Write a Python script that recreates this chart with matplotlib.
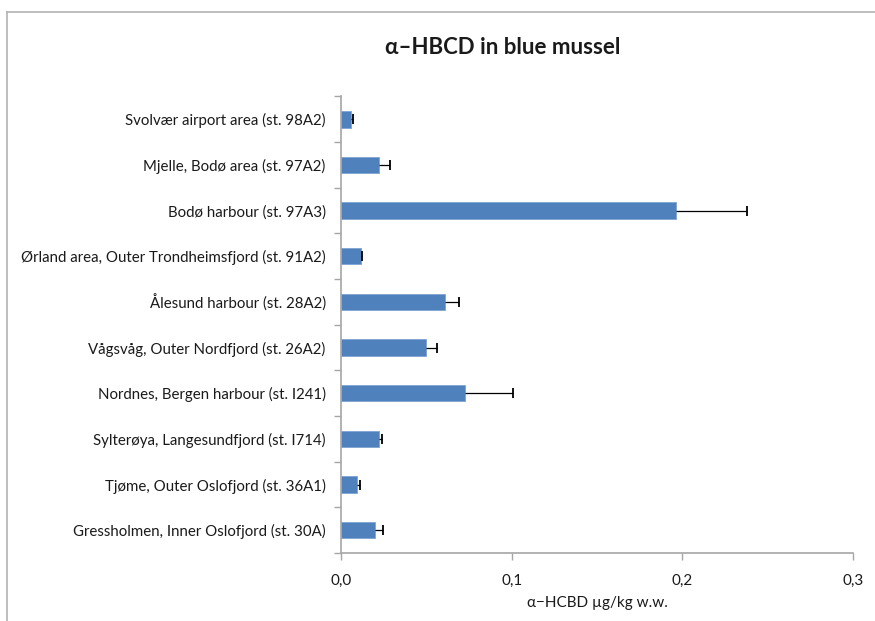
import matplotlib
matplotlib.use("Agg")
import matplotlib.pyplot as plt
import numpy as np
from matplotlib.ticker import FixedLocator, FuncFormatter
from matplotlib.lines import Line2D

plt.rcParams['font.family'] = ['Lato', 'DejaVu Sans']

stations = [
    "Svolvær airport area (st. 98A2)",
    "Mjelle, Bodø area (st. 97A2)",
    "Bodø harbour (st. 97A3)",
    "Ørland area, Outer Trondheimsfjord (st. 91A2)",
    "Ålesund harbour (st. 28A2)",
    "Vågsvåg, Outer Nordfjord (st. 26A2)",
    "Nordnes, Bergen harbour (st. I241)",
    "Sylterøya, Langesundfjord (st. I714)",
    "Tjøme, Outer Oslofjord (st. 36A1)",
    "Gressholmen, Inner Oslofjord (st. 30A)",
]
mean_conc = [0.0057, 0.0225, 0.1961, 0.0117, 0.0609, 0.0500, 0.0726, 0.0225, 0.0092, 0.0199]
std_dev = [0.0016, 0.0062, 0.0419, 0.0006, 0.0081, 0.0062, 0.0280, 0.0013, 0.0022, 0.0049]
x_ticks = [0.0, 0.1, 0.2, 0.3]

W, H = 875, 621
fig = plt.figure(figsize=(W / 100, H / 100), dpi=100)
fig.patch.set_facecolor("white")

# outer chart frame (top and left edges visible)
fig.add_artist(Line2D([7 / W, 7 / W], [0, 1 - 12 / H], transform=fig.transFigure,
                      color="#B3B3B3", lw=1.2))
fig.add_artist(Line2D([7 / W, 1], [1 - 12 / H, 1 - 12 / H], transform=fig.transFigure,
                      color="#B3B3B3", lw=1.2))

ax = fig.add_axes([341 / W, (H - 553) / H, (853 - 341) / W, (553 - 96.5) / H])

n = len(stations)
y = np.arange(n)
mean_arr = np.array(mean_conc)
upper = mean_arr + np.array(std_dev)

ax.barh(y, mean_conc, height=0.36, color="#4F81BD", edgecolor="#7FA3D1", linewidth=0.6,
        zorder=2)
# one-sided (plus) error bars with a cap only at the outer end
ax.hlines(y, mean_arr, upper, colors="black", linewidth=0.9, zorder=3)
ax.plot(upper, y, linestyle="none", marker="|", markersize=7, markeredgewidth=1.3,
        color="black", zorder=3)

ax.set_ylim(n - 0.5, -0.5)
ax.set_xlim(0, 0.3)

ax.set_yticks(y)
ax.set_yticklabels(stations, fontsize=10.8, color="#1a1a1a")
ax.yaxis.set_minor_locator(FixedLocator(np.arange(-0.5, n, 1.0)))
ax.tick_params(axis="y", which="major", length=0, pad=11)
ax.tick_params(axis="y", which="minor", length=5, color="#A6A6A6", width=1)

ax.set_xticks(x_ticks)
ax.xaxis.set_major_formatter(FuncFormatter(lambda v, p: f"{v:.1f}".replace(".", ",")))
ax.tick_params(axis="x", which="major", length=5, color="#A6A6A6", width=1, pad=10,
               labelsize=11, labelcolor="#1a1a1a")

for s in ("top", "right"):
    ax.spines[s].set_visible(False)
for s in ("left", "bottom"):
    ax.spines[s].set_color("#A6A6A6")
    ax.spines[s].set_linewidth(1.2)

ax.set_xlabel("α−HCBD µg/kg w.w.", fontsize=11, color="#1a1a1a", labelpad=6)

fig.text(503 / W, 1 - 48 / H, "α–HBCD in blue mussel", ha="center", va="center",
         fontsize=16, fontweight="bold", color="#1a1a1a")

fig.savefig("out.png", dpi=100, facecolor="white")
